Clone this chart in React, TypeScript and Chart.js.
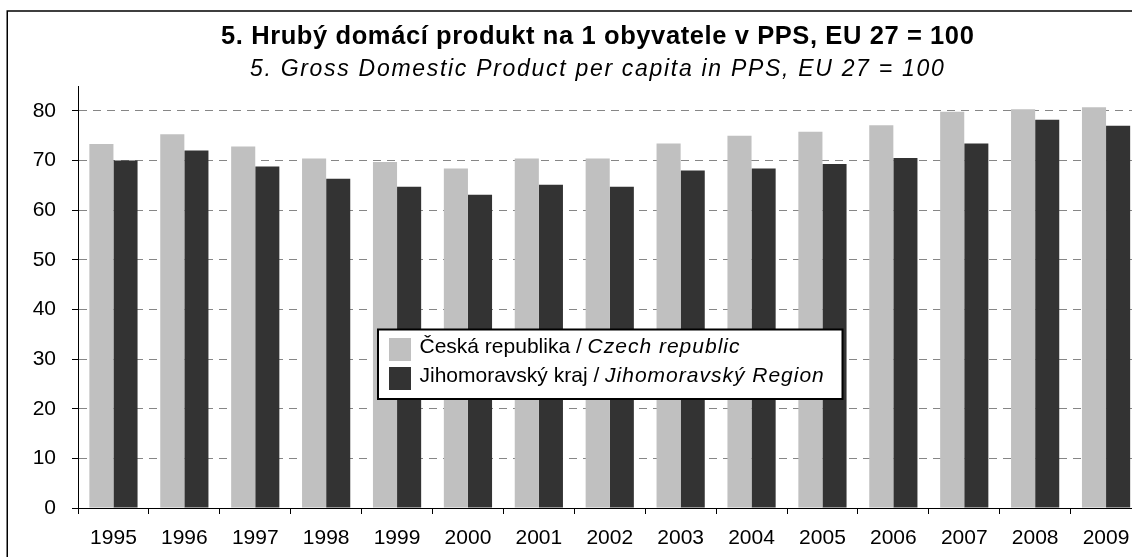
import React, { useEffect, useRef } from "react";
import { Chart, registerables } from "chart.js";

Chart.register(...registerables);

const years = ["1995", "1996", "1997", "1998", "1999", "2000", "2001", "2002", "2003", "2004", "2005", "2006", "2007", "2008", "2009"];
const czechValues = [73.3, 75.3, 72.8, 70.4, 69.7, 68.4, 70.4, 70.4, 73.4, 75.0, 75.8, 77.1, 79.8, 80.3, 80.7];
const regionValues = [70.0, 72.0, 68.8, 66.3, 64.7, 63.1, 65.1, 64.7, 68.0, 68.4, 69.3, 70.5, 73.4, 78.2, 77.0];
const yTickValues = [0, 10, 20, 30, 40, 50, 60, 70, 80];
const seriesColors = ["#c0c0c0", "#333333"];
const legendLocal = ["Česká republika / ", "Jihomoravský kraj / "];
const legendEnglish = ["Czech republic", "Jihomoravský Region"];
const titleLocal = "5. Hrubý domácí produkt na 1 obyvatele v PPS, EU 27 = 100";
const titleEnglish = "5. Gross Domestic Product per capita in PPS, EU 27 = 100";

const FONT = '"Liberation Sans", Arial, sans-serif';
const CANVAS_W = 1190;
const CANVAS_H = 600;

function setSpacing(ctx: any, v: string) {
  if ("letterSpacing" in ctx) ctx.letterSpacing = v;
}

const decorPlugin = {
  id: "decor",
  afterDraw(chart: any) {
    const ctx = chart.ctx;
    ctx.save();
    // outer frame
    ctx.strokeStyle = "#000";
    ctx.lineWidth = 1.5;
    ctx.strokeRect(7.25, 11, CANVAS_W + 20, CANVAS_H + 20);

    // titles
    ctx.fillStyle = "#000";
    ctx.textAlign = "left";
    ctx.textBaseline = "alphabetic";
    ctx.font = `bold 25.5px ${FONT}`;
    setSpacing(ctx, "0.6px");
    ctx.fillText(titleLocal, 221, 43.5);
    ctx.font = `italic 23px ${FONT}`;
    setSpacing(ctx, "1.7px");
    ctx.fillText(titleEnglish, 250, 75.5);
    setSpacing(ctx, "0px");

    // legend
    ctx.fillStyle = "#fff";
    ctx.fillRect(378, 329.5, 464.5, 69.5);
    ctx.lineWidth = 2;
    ctx.strokeStyle = "#000";
    ctx.strokeRect(378, 329.5, 464.5, 69.5);
    const rowsY = [338, 367];
    const baseY = [352.5, 382];
    for (let i = 0; i < 2; i++) {
      ctx.fillStyle = seriesColors[i];
      ctx.fillRect(389, rowsY[i], 22, 23);
      ctx.fillStyle = "#000";
      ctx.font = `21px ${FONT}`;
      setSpacing(ctx, "0px");
      const x0 = 419.5;
      ctx.fillText(legendLocal[i], x0, baseY[i]);
      const w = ctx.measureText(legendLocal[i]).width;
      ctx.font = `italic 21px ${FONT}`;
      setSpacing(ctx, "1px");
      ctx.fillText(legendEnglish[i], x0 + w, baseY[i]);
      setSpacing(ctx, "0px");
    }
    ctx.restore();
  },
};

export default function App() {
  const canvasRef = useRef<HTMLCanvasElement | null>(null);

  useEffect(() => {
    const canvas = canvasRef.current;
    if (!canvas) return;
    const chart = new Chart(canvas, {
      type: "bar",
      data: {
        labels: years,
        datasets: [
          {
            label: legendLocal[0] + legendEnglish[0],
            data: czechValues,
            backgroundColor: seriesColors[0],
            borderWidth: 0,
            categoryPercentage: 0.68,
            barPercentage: 1,
          },
          {
            label: legendLocal[1] + legendEnglish[1],
            data: regionValues,
            backgroundColor: seriesColors[1],
            borderWidth: 0,
            categoryPercentage: 0.68,
            barPercentage: 1,
          },
        ],
      },
      options: {
        animation: false,
        responsive: false,
        maintainAspectRatio: false,
        devicePixelRatio: 1,
        layout: { padding: { left: 0, right: CANVAS_W - 1141.5, top: 86, bottom: 0 } },
        plugins: {
          legend: { display: false },
          title: { display: false },
          tooltip: { enabled: false },
        },
        scales: {
          x: {
            grid: {
              display: true,
              drawOnChartArea: false,
              drawTicks: true,
              tickLength: 6,
              tickColor: "#000",
              offset: true,
            },
            border: { display: true, color: "#000", width: 1 },
            ticks: {
              color: "#000",
              font: { family: FONT, size: 21 },
              padding: 12,
              maxRotation: 0,
              autoSkip: false,
            },
            afterFit: (s: any) => {
              s.height = CANVAS_H - 508;
            },
          },
          y: {
            min: 0,
            max: 85,
            afterBuildTicks: (s: any) => {
              s.ticks = yTickValues.map((v) => ({ value: v }));
            },
            grid: {
              color: (c: any) => (c.tick && c.tick.value === 0 ? "rgba(0,0,0,0)" : "#868686"),
              lineWidth: 1,
              tickColor: "#000",
              tickLength: 6,
              tickBorderDash: [],
            },
            border: { display: true, color: "#000", width: 1, dash: [8, 6] },
            ticks: {
              color: "#000",
              font: { family: FONT, size: 21 },
              padding: 16,
            },
            afterFit: (s: any) => {
              s.width = 78;
            },
          },
        },
      },
      plugins: [decorPlugin],
    } as any);
    return () => chart.destroy();
  }, []);

  return (
    <div
      style={{
        position: "fixed",
        left: 0,
        top: 0,
        width: 1132,
        height: 557,
        overflow: "hidden",
        background: "#fff",
      }}
    >
      <canvas
        ref={canvasRef}
        width={CANVAS_W}
        height={CANVAS_H}
        style={{ position: "absolute", left: 0, top: 0, width: CANVAS_W, height: CANVAS_H }}
      />
    </div>
  );
}
